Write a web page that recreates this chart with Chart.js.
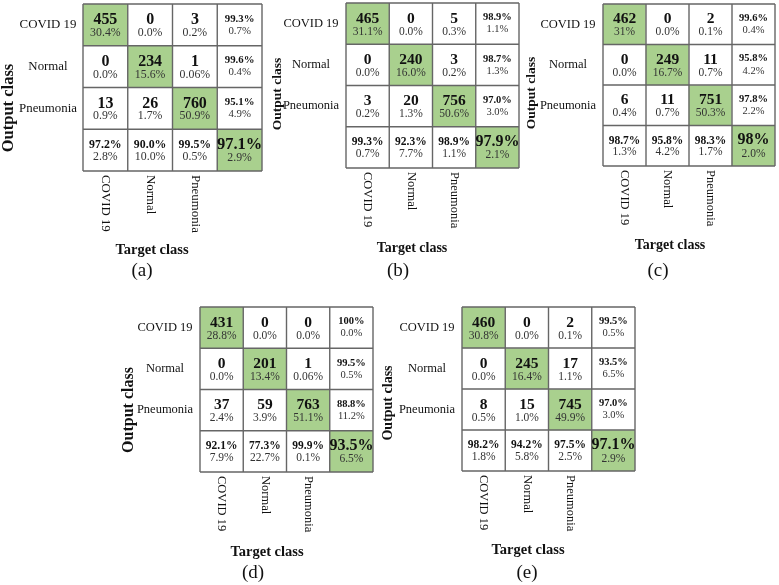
<!DOCTYPE html>
<html>
<head>
<meta charset="utf-8">
<script src="https://cdn.jsdelivr.net/npm/chart.js@4.4.0/dist/chart.umd.min.js"></script>
<style>
    body { margin: 0; background: #fff; }
    #wrap { position: relative; width: 779px; height: 585px; overflow: hidden; }
    #wrap canvas { position: absolute; left: 0; top: 0; }
</style>
</head>
<body>
<div id="wrap">
    <canvas id="cm-a"></canvas>
    <canvas id="cm-b"></canvas>
    <canvas id="cm-c"></canvas>
    <canvas id="cm-d"></canvas>
    <canvas id="cm-e"></canvas>
</div>
<script>
// --- 1. DATA ---
const classes = ['COVID 19', 'Normal', 'Pneumonia'];
const panelLetters = ['(a)', '(b)', '(c)', '(d)', '(e)'];

// (a)
const countsA = [[455, 0, 3], [0, 234, 1], [13, 26, 760]];
const sharesA = [['30.4%', '0.0%', '0.2%'], ['0.0%', '15.6%', '0.06%'], ['0.9%', '1.7%', '50.9%']];
const outputRatesA = [['99.3%', '0.7%'], ['99.6%', '0.4%'], ['95.1%', '4.9%']];
const targetRatesA = [['97.2%', '2.8%'], ['90.0%', '10.0%'], ['99.5%', '0.5%']];
const overallA = ['97.1%', '2.9%'];

// (b)
const countsB = [[465, 0, 5], [0, 240, 3], [3, 20, 756]];
const sharesB = [['31.1%', '0.0%', '0.3%'], ['0.0%', '16.0%', '0.2%'], ['0.2%', '1.3%', '50.6%']];
const outputRatesB = [['98.9%', '1.1%'], ['98.7%', '1.3%'], ['97.0%', '3.0%']];
const targetRatesB = [['99.3%', '0.7%'], ['92.3%', '7.7%'], ['98.9%', '1.1%']];
const overallB = ['97.9%', '2.1%'];

// (c)
const countsC = [[462, 0, 2], [0, 249, 11], [6, 11, 751]];
const sharesC = [['31%', '0.0%', '0.1%'], ['0.0%', '16.7%', '0.7%'], ['0.4%', '0.7%', '50.3%']];
const outputRatesC = [['99.6%', '0.4%'], ['95.8%', '4.2%'], ['97.8%', '2.2%']];
const targetRatesC = [['98.7%', '1.3%'], ['95.8%', '4.2%'], ['98.3%', '1.7%']];
const overallC = ['98%', '2.0%'];

// (d)
const countsD = [[431, 0, 0], [0, 201, 1], [37, 59, 763]];
const sharesD = [['28.8%', '0.0%', '0.0%'], ['0.0%', '13.4%', '0.06%'], ['2.4%', '3.9%', '51.1%']];
const outputRatesD = [['100%', '0.0%'], ['99.5%', '0.5%'], ['88.8%', '11.2%']];
const targetRatesD = [['92.1%', '7.9%'], ['77.3%', '22.7%'], ['99.9%', '0.1%']];
const overallD = ['93.5%', '6.5%'];

// (e)
const countsE = [[460, 0, 2], [0, 245, 17], [8, 15, 745]];
const sharesE = [['30.8%', '0.0%', '0.1%'], ['0.0%', '16.4%', '1.1%'], ['0.5%', '1.0%', '49.9%']];
const outputRatesE = [['99.5%', '0.5%'], ['93.5%', '6.5%'], ['97.0%', '3.0%']];
const targetRatesE = [['98.2%', '1.8%'], ['94.2%', '5.8%'], ['97.5%', '2.5%']];
const overallE = ['97.1%', '2.9%'];

// --- 2. LAYOUT & STYLE ---
const W = 779, H = 585;
const GREEN = '#a9d08e';
const LINE = '#666666';
const SERIF = '"Liberation Serif", "Times New Roman", serif';

// matrix box + label positions for each panel
const layouts = [
    { left: 83, top: 4, right: 262, bottom: 171, outX: 9, outY: 108, outSize: 16.5, targetX: 152, targetY: 250, targetSize: 14.5, letterX: 142, letterY: 271, k: 1.03 },
    { left: 346, top: 3, right: 519, bottom: 168, outX: 278, outY: 94, outSize: 13.5, targetX: 412, targetY: 248, targetSize: 14, letterX: 398, letterY: 271, k: 1 },
    { left: 603, top: 4, right: 775, bottom: 166, outX: 532, outY: 93, outSize: 13.5, targetX: 670, targetY: 245, targetSize: 14, letterX: 658, letterY: 271, k: 1 },
    { left: 200, top: 307, right: 373, bottom: 472, outX: 129, outY: 410, outSize: 16, targetX: 267, targetY: 552, targetSize: 14.5, letterX: 253, letterY: 573, k: 1 },
    { left: 462, top: 307, right: 635, bottom: 471, outX: 388, outY: 403, outSize: 14, targetX: 528, targetY: 550, targetSize: 14.5, letterX: 527, letterY: 573, k: 1 }
];

// --- 3. CORE FUNCTIONS ---
function text(ctx, str, x, y, font, color, align = 'center') {
    ctx.font = font;
    ctx.fillStyle = color;
    ctx.textAlign = align;
    ctx.textBaseline = 'middle';
    ctx.fillText(str, x, y);
}

function drawConfusionMatrix(id, counts, shares, outputRates, targetRates, overall, letter, lay) {
    const canvas = document.getElementById(id);
    canvas.width = W;
    canvas.height = H;
    canvas.style.width = W + 'px';
    canvas.style.height = H + 'px';

    // one floating bar per cell: dataset = row, index = column
    const datasets = [];
    for (let r = 0; r < 4; r++) {
        const data = [];
        const colors = [];
        for (let c = 0; c < 4; c++) {
            data.push([r, r + 1]);
            colors.push(r === c ? GREEN : '#ffffff');
        }
        datasets.push({
            label: r < 3 ? classes[r] : 'Total',
            data: data,
            backgroundColor: colors,
            borderWidth: 0,
            barPercentage: 1,
            categoryPercentage: 1
        });
    }

    const cellText = {
        id: 'cellText',
        afterDatasetsDraw(chart) {
            const ctx = chart.ctx;
            const xs = chart.getDatasetMeta(0).data;
            const yScale = chart.scales.y;
            const area = chart.chartArea;
            const k = lay.k;
            ctx.save();

            // grid lines
            ctx.strokeStyle = LINE;
            ctx.lineWidth = 1.4;
            ctx.beginPath();
            for (let c = 0; c < 4; c++) {
                const x0 = xs[c].x - xs[c].width / 2;
                ctx.moveTo(x0, area.top);
                ctx.lineTo(x0, area.bottom);
            }
            ctx.moveTo(xs[3].x + xs[3].width / 2, area.top);
            ctx.lineTo(xs[3].x + xs[3].width / 2, area.bottom);
            for (let r = 0; r <= 4; r++) {
                const y0 = yScale.getPixelForValue(r);
                ctx.moveTo(area.left, y0);
                ctx.lineTo(area.right, y0);
            }
            ctx.stroke();

            // cell contents
            for (let r = 0; r < 4; r++) {
                const cy = yScale.getPixelForValue(r + 0.5);
                for (let c = 0; c < 4; c++) {
                    const cx = xs[c].x;
                    if (r < 3 && c < 3) {
                        text(ctx, String(counts[r][c]), cx, cy - 5, `bold ${15.5 * k}px ${SERIF}`, '#111');
                        text(ctx, shares[r][c], cx, cy + 8, `${11.5 * k}px ${SERIF}`, '#333');
                    } else if (r < 3 && c === 3) {
                        text(ctx, outputRates[r][0], cx, cy - 6, `bold ${10.5 * k}px ${SERIF}`, '#111');
                        text(ctx, outputRates[r][1], cx, cy + 6, `${10.5 * k}px ${SERIF}`, '#333');
                    } else if (r === 3 && c < 3) {
                        text(ctx, targetRates[c][0], cx, cy - 5, `bold ${11.5 * k}px ${SERIF}`, '#111');
                        text(ctx, targetRates[c][1], cx, cy + 6.5, `${11.5 * k}px ${SERIF}`, '#333');
                    } else {
                        text(ctx, overall[0], cx, cy - 5.5, `bold ${16 * k}px ${SERIF}`, '#111');
                        text(ctx, overall[1], cx, cy + 8, `${11.5 * k}px ${SERIF}`, '#333');
                    }
                }
            }

            // row labels (output class)
            for (let r = 0; r < 3; r++) {
                text(ctx, classes[r], area.left - 35, yScale.getPixelForValue(r + 0.5), `${12.5 * k}px ${SERIF}`, '#111');
            }
            // column labels (target class), reading top to bottom
            for (let c = 0; c < 3; c++) {
                ctx.save();
                ctx.translate(xs[c].x, area.bottom + 4);
                ctx.rotate(Math.PI / 2);
                text(ctx, classes[c], 0, 0, `${12.5 * k}px ${SERIF}`, '#111', 'left');
                ctx.restore();
            }
            // axis titles
            ctx.save();
            ctx.translate(lay.outX, lay.outY);
            ctx.rotate(-Math.PI / 2);
            text(ctx, 'Output class', 0, 0, `bold ${lay.outSize}px ${SERIF}`, '#111');
            ctx.restore();
            text(ctx, 'Target class', lay.targetX, lay.targetY, `bold ${lay.targetSize}px ${SERIF}`, '#111');
            text(ctx, letter, lay.letterX, lay.letterY, `19px ${SERIF}`, '#111');

            ctx.restore();
        }
    };

    new Chart(canvas.getContext('2d'), {
        type: 'bar',
        data: { labels: [...classes, ''], datasets: datasets },
        options: {
            responsive: false,
            animation: false,
            layout: {
                padding: { left: lay.left, top: lay.top, right: W - lay.right, bottom: H - lay.bottom }
            },
            scales: {
                x: { type: 'category', stacked: true, display: false },
                y: { type: 'linear', stacked: false, min: 0, max: 4, reverse: true, display: false }
            },
            plugins: {
                legend: { display: false },
                tooltip: { enabled: false }
            }
        },
        plugins: [cellText]
    });
}

// --- 4. INITIAL LOAD ---
drawConfusionMatrix('cm-a', countsA, sharesA, outputRatesA, targetRatesA, overallA, panelLetters[0], layouts[0]);
drawConfusionMatrix('cm-b', countsB, sharesB, outputRatesB, targetRatesB, overallB, panelLetters[1], layouts[1]);
drawConfusionMatrix('cm-c', countsC, sharesC, outputRatesC, targetRatesC, overallC, panelLetters[2], layouts[2]);
drawConfusionMatrix('cm-d', countsD, sharesD, outputRatesD, targetRatesD, overallD, panelLetters[3], layouts[3]);
drawConfusionMatrix('cm-e', countsE, sharesE, outputRatesE, targetRatesE, overallE, panelLetters[4], layouts[4]);
</script>
</body>
</html>
